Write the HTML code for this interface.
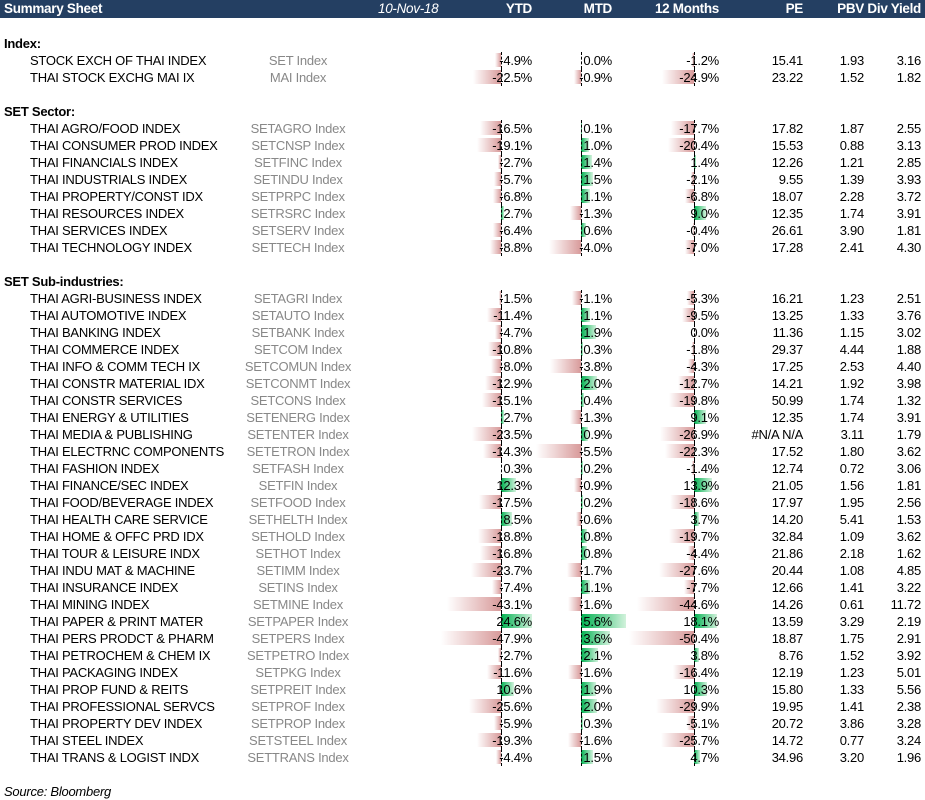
<!DOCTYPE html>
<html><head><meta charset="utf-8">
<style>
body{margin:0;width:925px;height:800px;background:#fff;font-family:"Liberation Sans",Arial,sans-serif;position:relative;overflow:hidden}
.h{position:absolute;left:0;top:0;width:925px;height:18px;background:#243f62;color:#fff;font-weight:bold;font-size:13.5px;letter-spacing:-0.3px}
.h span{position:absolute;top:1px;white-space:nowrap}
.t{position:absolute;font-size:13px;letter-spacing:-0.25px;white-space:nowrap;color:#000;line-height:17px;height:17px}
.r{text-align:right}
.g{color:#888}
.bar{position:absolute;height:14px}
.neg{background:linear-gradient(to right,#fff,#d89a9a)}
.pos{background:linear-gradient(to right,#00b050,#d2f2dc)}
.ax{position:absolute;width:0;border-left:1px dashed #000;height:17px}
</style></head><body>
<div class="h">
<span style="left:4px">Summary Sheet</span>
<span style="left:378px;font-weight:normal;font-style:italic">10-Nov-18</span>
<span style="right:393px">YTD</span>
<span style="right:313px">MTD</span>
<span style="right:206px">12 Months</span>
<span style="right:122px">PE</span>
<span style="right:61px">PBV</span>
<span style="right:4px">Div Yield</span>
</div>
<div id="tbl"></div>
<div class="t" style="left:4px;top:783px;font-style:italic">Source: Bloomberg</div>
<script>
const sections=[["Index:",0],["SET Sector:",4],["SET Sub-industries:",14]];
const names=["STOCK EXCH OF THAI INDEX","THAI STOCK EXCHG MAI IX",
"THAI AGRO/FOOD INDEX","THAI CONSUMER PROD INDEX","THAI FINANCIALS INDEX","THAI INDUSTRIALS INDEX","THAI PROPERTY/CONST IDX","THAI RESOURCES INDEX","THAI SERVICES INDEX","THAI TECHNOLOGY INDEX",
"THAI AGRI-BUSINESS INDEX","THAI AUTOMOTIVE INDEX","THAI BANKING INDEX","THAI COMMERCE INDEX","THAI INFO & COMM TECH IX","THAI CONSTR MATERIAL IDX","THAI CONSTR SERVICES","THAI ENERGY & UTILITIES","THAI MEDIA & PUBLISHING","THAI ELECTRNC COMPONENTS","THAI FASHION INDEX","THAI FINANCE/SEC INDEX","THAI FOOD/BEVERAGE INDEX","THAI HEALTH CARE SERVICE","THAI HOME & OFFC PRD IDX","THAI TOUR & LEISURE INDX","THAI INDU MAT & MACHINE","THAI INSURANCE INDEX","THAI MINING INDEX","THAI PAPER & PRINT MATER","THAI PERS PRODCT & PHARM","THAI PETROCHEM & CHEM IX","THAI PACKAGING INDEX","THAI PROP FUND & REITS","THAI PROFESSIONAL SERVCS","THAI PROPERTY DEV INDEX","THAI STEEL INDEX","THAI TRANS & LOGIST INDX"];
const tickers=["SET","MAI","SETAGRO","SETCNSP","SETFINC","SETINDU","SETPRPC","SETRSRC","SETSERV","SETTECH","SETAGRI","SETAUTO","SETBANK","SETCOM","SETCOMUN","SETCONMT","SETCONS","SETENERG","SETENTER","SETETRON","SETFASH","SETFIN","SETFOOD","SETHELTH","SETHOLD","SETHOT","SETIMM","SETINS","SETMINE","SETPAPER","SETPERS","SETPETRO","SETPKG","SETPREIT","SETPROF","SETPROP","SETSTEEL","SETTRANS"];
const ytd=[-4.9,-22.5,-16.5,-19.1,-2.7,-5.7,-6.8,2.7,-6.4,-8.8,-1.5,-11.4,-4.7,-10.8,-8.0,-12.9,-15.1,2.7,-23.5,-14.3,0.3,12.3,-17.5,8.5,-18.8,-16.8,-23.7,-7.4,-43.1,24.6,-47.9,-2.7,-11.6,10.6,-25.6,-5.9,-19.3,-4.4];
const mtd=[0.0,-0.9,0.1,1.0,1.4,1.5,1.1,-1.3,0.6,-4.0,-1.1,1.1,1.9,0.3,-3.8,2.0,0.4,-1.3,0.9,-5.5,0.2,-0.9,0.2,-0.6,0.8,0.8,-1.7,1.1,-1.6,5.6,3.6,2.1,-1.6,1.9,2.0,0.3,-1.6,1.5];
const m12=[-1.2,-24.9,-17.7,-20.4,1.4,-2.1,-6.8,9.0,-0.4,-7.0,-5.3,-9.5,0.0,-1.8,-4.3,-12.7,-19.8,9.1,-26.9,-22.3,-1.4,13.9,-18.6,3.7,-19.7,-4.4,-27.6,-7.7,-44.6,18.1,-50.4,3.8,-16.4,10.3,-29.9,-5.1,-25.7,4.7];
const pe=["15.41","23.22","17.82","15.53","12.26","9.55","18.07","12.35","26.61","17.28","16.21","13.25","11.36","29.37","17.25","14.21","50.99","12.35","#N/A N/A","17.52","12.74","21.05","17.97","14.20","32.84","21.86","20.44","12.66","14.26","13.59","18.87","8.76","12.19","15.80","19.95","20.72","14.72","34.96"];
const pbv=["1.93","1.52","1.87","0.88","1.21","1.39","2.28","1.74","3.90","2.41","1.23","1.33","1.15","4.44","2.53","1.92","1.74","1.74","3.11","1.80","0.72","1.56","1.95","5.41","1.09","2.18","1.08","1.41","0.61","3.29","1.75","1.52","1.23","1.33","1.41","3.86","0.77","3.20"];
const dy=["3.16","1.82","2.55","3.13","2.85","3.93","3.72","3.91","1.81","4.30","2.51","3.76","3.02","1.88","4.40","3.98","1.32","3.91","1.79","3.62","3.06","1.81","2.56","1.53","3.62","1.62","4.85","3.22","11.72","2.19","2.91","3.92","5.01","5.56","2.38","3.28","3.24","1.96"];
const T=document.getElementById('tbl');
function rowTop(k){return 43+17*k-8.5;}
function mk(cls,left,top,txt,style){const d=document.createElement('div');d.className=cls;d.style.left=left+'px';d.style.top=top+'px';if(style)d.style.cssText+=style;if(txt!==undefined)d.textContent=txt;T.appendChild(d);return d;}
sections.forEach(s=>{const d=mk('t',4,rowTop(s[1]),s[0],'font-weight:bold');

});
const rowIdx=[];[1,2].forEach(k=>rowIdx.push(k));for(let k=5;k<=12;k++)rowIdx.push(k);for(let k=15;k<=42;k++)rowIdx.push(k);
function bar(v,ax,sc,top){if(v===0)return;const w=Math.abs(v)*sc;const d=mk('bar '+(v<0?'neg':'pos'),v<0?ax-w:ax,top+1.5,undefined,'width:'+w+'px');

}
function valCell(v,right,top,name){const d=mk('t r',right-80,top,v.toFixed(1)+'%','width:80px');

}
rowIdx.forEach((k,i)=>{const top=rowTop(k);
let d=mk('t',30,top,names[i]);


d=mk('t g',238,top,tickers[i]+' Index','width:120px;text-align:center');


bar(ytd[i],501,1.25,top);bar(mtd[i],581,8.1,top);bar(m12[i],694,1.28,top);
[501,581,694].forEach(x=>{const a=mk('ax',x,top);

});
valCell(ytd[i],532,top,'ytd-value');valCell(mtd[i],612,top,'mtd-value');valCell(m12[i],719,top,'12m-value');
[[pe,803,'pe-value'],[pbv,864,'pbv-value'],[dy,921,'div-yield-value']].forEach(c=>{const e=mk('t r',c[1]-80,top,c[0][i],'width:80px');

});
});
</script>
</body></html>
